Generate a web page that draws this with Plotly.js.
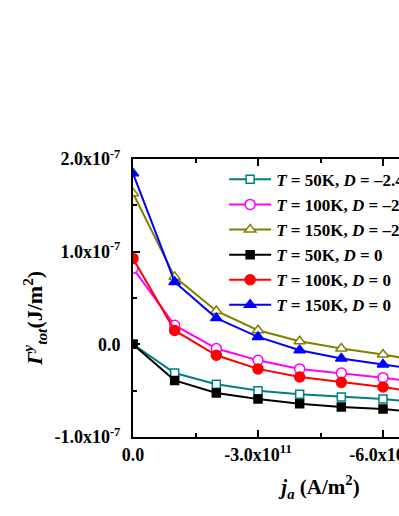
<!DOCTYPE html>
<html>
<head>
<meta charset="utf-8">
<script src="https://cdn.plot.ly/plotly-3.0.1.min.js"></script>
<style>
html, body { margin: 0; padding: 0; width: 399px; height: 516px; overflow: hidden; background: #fff; }
#chart { width: 520px; height: 516px; }
</style>
</head>
<body>
<div id="chart"></div>
<script>
// current density j_a (A/m^2)
const ja = [0, -1e11, -2e11, -3e11, -4e11, -5e11, -6e11, -7e11];

// Gamma^y_tot (J/m^2)
const t50_D24  = [0.0e-7, -0.31e-7, -0.43e-7, -0.50e-7, -0.54e-7, -0.568e-7, -0.59e-7, -0.63e-7];
const t100_D24 = [0.82e-7, 0.206e-7, -0.045e-7, -0.172e-7, -0.265e-7, -0.31e-7, -0.36e-7, -0.42e-7];
const t150_D24 = [1.63e-7, 0.728e-7, 0.36e-7, 0.152e-7, 0.033e-7, -0.045e-7, -0.11e-7, -0.19e-7];
const t50_D0   = [0.0e-7, -0.39e-7, -0.525e-7, -0.59e-7, -0.64e-7, -0.676e-7, -0.697e-7, -0.74e-7];
const t100_D0  = [0.927e-7, 0.15e-7, -0.118e-7, -0.265e-7, -0.352e-7, -0.41e-7, -0.46e-7, -0.53e-7];
const t150_D0  = [1.845e-7, 0.674e-7, 0.283e-7, 0.08e-7, -0.064e-7, -0.153e-7, -0.218e-7, -0.28e-7];

const seriesNames = [
  '<i>T</i> = 50K, <i>D</i> = –2.4',
  '<i>T</i> = 100K, <i>D</i> = –2.4',
  '<i>T</i> = 150K, <i>D</i> = –2.4',
  '<i>T</i> = 50K, <i>D</i> = 0',
  '<i>T</i> = 100K, <i>D</i> = 0',
  '<i>T</i> = 150K, <i>D</i> = 0'
];

const xTickVals = [0, -3e11, -6e11, -9e11];
const xTickText = ['0.0', '-3.0x10<sup>11</sup>', '-6.0x10<sup>11</sup>', '-9.0x10<sup>11</sup>'];
const yTickVals = [-1e-7, 0, 1e-7, 2e-7];
const yTickText = ['-1.0x10<sup>-7</sup>', '0.0', '1.0x10<sup>-7</sup>', '2.0x10<sup>-7</sup>'];

const styles = [
  {color: '#008080', symbol: 'square', open: true},
  {color: '#FF00FF', symbol: 'circle', open: true},
  {color: '#808000', symbol: 'triangle-up', open: true},
  {color: '#000000', symbol: 'square', open: false},
  {color: '#FF0000', symbol: 'circle', open: false},
  {color: '#0000FF', symbol: 'triangle-up', open: false}
];
const ys = [t50_D24, t100_D24, t150_D24, t50_D0, t100_D0, t150_D0];

const traces = ys.map((y, i) => ({
  x: ja, y: y, type: 'scatter', mode: 'lines+markers', name: seriesNames[i],
  line: {color: styles[i].color, width: 2},
  marker: {
    symbol: styles[i].symbol, size: styles[i].symbol === 'square' ? 8 : 10,
    color: styles[i].open ? '#ffffff' : styles[i].color,
    line: {color: styles[i].color, width: 1.5}
  },
  cliponaxis: true
}));

const font = {family: '"Liberation Serif", "Times New Roman", serif', color: '#000'};

const layout = {
  width: 520, height: 516,
  margin: {l: 133, r: 12, t: 159, b: 79},
  paper_bgcolor: '#fff', plot_bgcolor: '#fff',
  showlegend: true,
  font: font,
  legend: {
    x: 0.243, y: 0.99, xanchor: 'left', yanchor: 'top',
    bgcolor: 'rgba(0,0,0,0)', borderwidth: 0,
    font: {family: font.family, size: 17, color: '#000', weight: 'bold'},
    itemwidth: 42, tracegroupgap: 0
  },
  xaxis: {
    range: [0, -9e11], showgrid: false, zeroline: false,
    showline: true, linecolor: '#000', linewidth: 2, mirror: 'ticks',
    ticks: 'inside', ticklen: 7, tickwidth: 2, tickcolor: '#000',
    tickmode: 'array', tickvals: xTickVals, ticktext: xTickText,
    tickfont: {family: font.family, size: 18, color: '#000', weight: 'bold'},
    minor: {tickmode: 'array', tickvals: [-1.5e11, -4.5e11, -7.5e11], ticks: 'inside', ticklen: 4, tickwidth: 2, tickcolor: '#000', showgrid: false},
    title: {text: '<i>j</i><sub><i>a</i></sub> (A/m<sup>2</sup>)', font: {family: font.family, size: 21, color: '#000', weight: 'bold'}, standoff: 16}
  },
  yaxis: {
    range: [-1e-7, 2e-7], showgrid: false, zeroline: false,
    showline: true, linecolor: '#000', linewidth: 2, mirror: 'ticks',
    ticks: 'inside', ticklen: 7, tickwidth: 2, tickcolor: '#000',
    tickmode: 'array', tickvals: yTickVals, ticktext: yTickText,
    tickfont: {family: font.family, size: 18, color: '#000', weight: 'bold'},
    ticklabelstandoff: 7,
    minor: {tickmode: 'array', tickvals: [-0.5e-7, 0.5e-7, 1.5e-7], ticks: 'inside', ticklen: 4, tickwidth: 2, tickcolor: '#000', showgrid: false}
  },
  annotations: [{
    text: '<b><i>Γ</i><sup><i>y</i></sup><sub><i>tot</i></sub>(J/m<sup>2</sup>)</b>',
    xref: 'paper', yref: 'paper', x: (34 - 133) / 375, y: (437 - 319) / 278,
    xanchor: 'center', yanchor: 'middle', textangle: -90, showarrow: false,
    font: {family: font.family, size: 22, color: '#000'}
  }]
};

Plotly.newPlot('chart', traces, layout, {displayModeBar: false, staticPlot: true});
</script>
</body>
</html>
